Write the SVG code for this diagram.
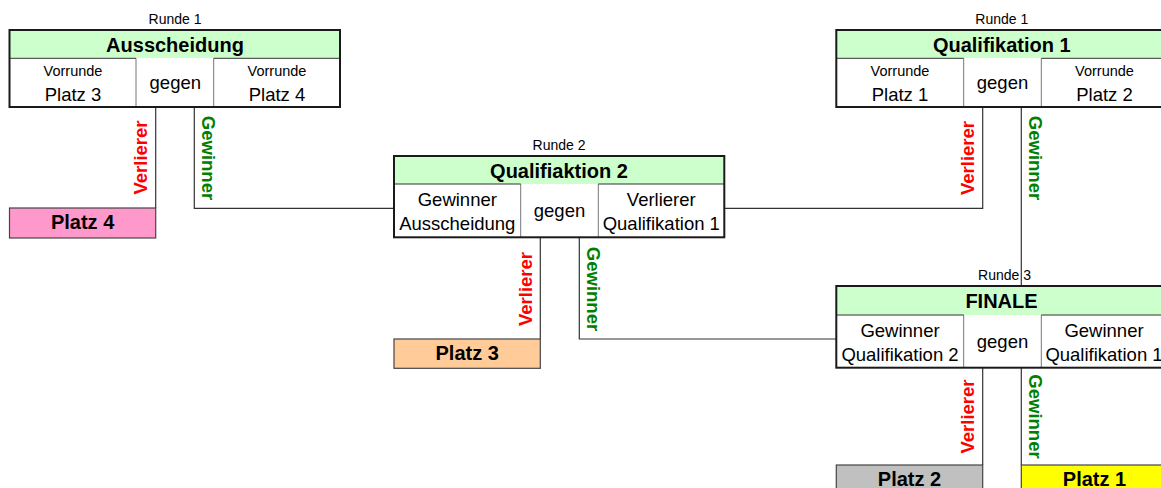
<svg xmlns="http://www.w3.org/2000/svg" width="1161" height="488" viewBox="0 0 1161 488">
<style>
text{font-family:"Liberation Sans",Arial,sans-serif;fill:#000;text-anchor:middle}
.rd{font-size:14px}
.hd{font-size:20px;font-weight:bold}
.sm{font-size:14.5px}
.md{font-size:18.5px}
.pl{font-size:20px;font-weight:bold}
.lv{font-size:18.5px;font-weight:bold;fill:#FF0000}
.lg{font-size:18.5px;font-weight:bold;fill:#008000}
.hdr{fill:#CCFFCC;stroke:none}
.cell{fill:#FFFFFF;stroke:none}
.div{stroke:#777;stroke-width:1;fill:none}
.hl{stroke:#333;stroke-width:1;fill:none}
.out{fill:none;stroke:#1a1a1a;stroke-width:2}
.pbox{stroke:#444;stroke-width:1.2}
.con{fill:none;stroke:#333;stroke-width:1.2}
</style>

<g id="connectors">
<path class="con" d="M155.7,107 V208"/>
<path class="con" d="M194.3,107 V208.3 H394"/>
<path class="con" d="M724.3,208.3 H982.7 V107"/>
<path class="con" d="M1021.3,107 V286"/>
<path class="con" d="M540.3,237.3 V339"/>
<path class="con" d="M579.3,237.3 V339 H836.3"/>
<path class="con" d="M982.7,367.7 V465"/>
<path class="con" d="M1021.3,367.7 V465"/>
<text class="lv" transform="translate(146.5,157.5) rotate(-90)">Verlierer</text>
<text class="lg" transform="translate(201.5,158) rotate(90)">Gewinner</text>
<text class="lv" transform="translate(531.5,289) rotate(-90)">Verlierer</text>
<text class="lg" transform="translate(586.5,289) rotate(90)">Gewinner</text>
<text class="lv" transform="translate(974,158) rotate(-90)">Verlierer</text>
<text class="lg" transform="translate(1029,158) rotate(90)">Gewinner</text>
<text class="lv" transform="translate(974,416.5) rotate(-90)">Verlierer</text>
<text class="lg" transform="translate(1029,416.5) rotate(90)">Gewinner</text>
</g>

<g id="ausscheidung">
<text class="rd" x="175" y="24">Runde 1</text>
<rect class="hdr" x="9.5" y="30" width="330.5" height="28.3"/>
<rect class="cell" x="9.5" y="58.3" width="330.5" height="48.7"/>
<path class="div" d="M136,58.3 V107 M213.7,58.3 V107"/>
<path class="hl" d="M9.5,58.3 H136 M213.7,58.3 H340"/>
<rect class="out" x="9.5" y="30" width="330.5" height="77"/>
<text class="hd" x="175" y="52">Ausscheidung</text>
<text class="sm" x="73" y="76">Vorrunde</text>
<text class="md" x="73" y="101">Platz 3</text>
<text class="md" x="175.3" y="89">gegen</text>
<text class="sm" x="277" y="76">Vorrunde</text>
<text class="md" x="277" y="101">Platz 4</text>
</g>

<g id="qualifikation1">
<text class="rd" x="1001.8" y="24">Runde 1</text>
<rect class="hdr" x="836.3" y="30" width="330.5" height="28.3"/>
<rect class="cell" x="836.3" y="58.3" width="330.5" height="48.7"/>
<path class="div" d="M963.7,58.3 V107 M1041.3,58.3 V107"/>
<path class="hl" d="M836.3,58.3 H963.7 M1041.3,58.3 H1167"/>
<rect class="out" x="836.3" y="30" width="330.5" height="77"/>
<text class="hd" x="1001.8" y="52">Qualifikation 1</text>
<text class="sm" x="900" y="76">Vorrunde</text>
<text class="md" x="900" y="101">Platz 1</text>
<text class="md" x="1002.5" y="89">gegen</text>
<text class="sm" x="1104.5" y="76">Vorrunde</text>
<text class="md" x="1104.5" y="101">Platz 2</text>
</g>

<g id="qualifikation2">
<text class="rd" x="559" y="150">Runde 2</text>
<rect class="hdr" x="394" y="156" width="330.3" height="28"/>
<rect class="cell" x="394" y="184" width="330.3" height="53.3"/>
<path class="div" d="M520.7,184 V237.3 M598.3,184 V237.3"/>
<path class="hl" d="M394,184 H520.7 M598.3,184 H724.3"/>
<rect class="out" x="394" y="156" width="330.3" height="81.3"/>
<text class="hd" x="559" y="177.7">Qualifiaktion 2</text>
<text class="md" x="457.3" y="206">Gewinner</text>
<text class="md" x="457.3" y="230">Ausscheidung</text>
<text class="md" x="559.5" y="217">gegen</text>
<text class="md" x="661.3" y="206">Verlierer</text>
<text class="md" x="661.3" y="230">Qualifikation 1</text>
</g>

<g id="finale">
<text class="rd" x="1004.5" y="280">Runde 3</text>
<rect class="hdr" x="836.3" y="286" width="330.5" height="29"/>
<rect class="cell" x="836.3" y="315" width="330.5" height="52.7"/>
<path class="div" d="M963.7,315 V367.7 M1041.3,315 V367.7"/>
<path class="hl" d="M836.3,315 H963.7 M1041.3,315 H1167"/>
<rect class="out" x="836.3" y="286" width="330.5" height="81.7"/>
<text class="hd" x="1001.5" y="308">FINALE</text>
<text class="md" x="900" y="336.5">Gewinner</text>
<text class="md" x="900" y="360.5">Qualifikation 2</text>
<text class="md" x="1002.5" y="348">gegen</text>
<text class="md" x="1104" y="336.5">Gewinner</text>
<text class="md" x="1104" y="360.5">Qualifikation 1</text>
</g>

<g id="platz4">
<rect class="pbox" x="9.5" y="208" width="146.2" height="30" fill="#FF99CC"/>
<text class="pl" x="82.6" y="229.3">Platz 4</text>
</g>
<g id="platz3">
<rect class="pbox" x="394" y="339" width="146.3" height="29.3" fill="#FFCC99"/>
<text class="pl" x="467.2" y="359.5">Platz 3</text>
</g>
<g id="platz2">
<rect class="pbox" x="836.3" y="465" width="146.4" height="35" fill="#C0C0C0"/>
<text class="pl" x="909.5" y="486.3">Platz 2</text>
</g>
<g id="platz1">
<rect class="pbox" x="1021.3" y="465" width="146" height="35" fill="#FFFF00"/>
<text class="pl" x="1094.5" y="486.3">Platz 1</text>
</g>
</svg>
